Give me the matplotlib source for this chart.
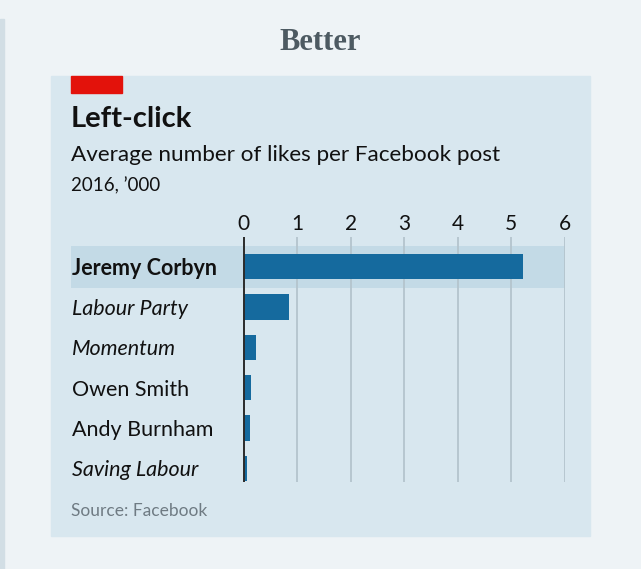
import matplotlib
matplotlib.use('Agg')
import matplotlib.pyplot as plt
from matplotlib.patches import Rectangle

# chart data, '000 likes per post
names = ['Jeremy Corbyn', 'Labour Party', 'Momentum', 'Owen Smith',
         'Andy Burnham', 'Saving Labour']
likes = [5.21, 0.84, 0.23, 0.13, 0.11, 0.05]
italic = [False, True, True, False, False, True]
ticks = [0, 1, 2, 3, 4, 5, 6]

W, H = 641, 569
BG = '#eef3f6'
PANEL = '#d8e7ef'
HIGHLIGHT = '#c3dae6'
BAR = '#156a9e'

plt.rcParams['font.family'] = ['Lato', 'DejaVu Sans']

fig = plt.figure(figsize=(W / 100, H / 100), dpi=100)
fig.patch.set_facecolor(BG)


def px(x, y):
    # pixel position (from top left) -> figure fraction
    return x / W, 1 - y / H


def box(x0, y0, x1, y1, color):
    fig.patches.append(Rectangle(px(x0, y1), (x1 - x0) / W, (y1 - y0) / H,
                                 transform=fig.transFigure, color=color,
                                 zorder=0))


# thin strip on the left, the panel and the red tag
box(0, 19, 4, H, '#d2dee5')
box(51, 76, 590, 536, PANEL)
box(71, 76, 121.5, 93, '#e3120b')

fig.text(*px(320.5, 50), 'Better', ha='center', va='baseline',
         family='Liberation Serif', fontweight='bold', fontsize=22,
         color='#4d5a62')
fig.text(*px(71, 127), 'Left-click', ha='left', va='baseline',
         fontweight='bold', fontsize=21, color='#111111')
fig.text(*px(71, 161), 'Average number of likes per Facebook post',
         ha='left', va='baseline', fontsize=16.2, color='#111111')
fig.text(*px(71, 191), '2016, \u2019000', ha='left', va='baseline',
         fontsize=13.5, color='#111111')
fig.text(*px(71, 516), 'Source: Facebook', ha='left', va='baseline',
         fontsize=12.5, color='#6f7b83')

# axes: value 0 at x=243.9px, value 6 at x=564.8px
ax_l, ax_r, ax_t, ax_b = 71, 565, 237, 481.7
ax = fig.add_axes([ax_l / W, 1 - ax_b / H, (ax_r - ax_l) / W,
                   (ax_b - ax_t) / H])
ax.set_zorder(2)
ax.set_facecolor('none')
unit = (564.8 - 243.9) / 6
xmin = (ax_l - 243.9) / unit
xmax = (ax_r - 243.9) / unit
ax.set_xlim(xmin, xmax)
ax.set_ylim(5.335, -0.737)

ax.axhspan(-0.52, 0.52, color=HIGHLIGHT, zorder=0, lw=0)
for t in ticks:
    ax.axvline(t, color='#b4c4cd', lw=1.3, zorder=1)
ax.barh(range(len(names)), likes, height=0.63, color=BAR, zorder=2)
ax.axvline(0, color='#2b2b2b', lw=1.4, zorder=3)

for i, (n, it) in enumerate(zip(names, italic)):
    ax.text(xmin + 0.02, i + 0.05, n, ha='left', va='center', fontsize=15.5,
            fontstyle='italic' if it else 'normal',
            fontweight='bold' if i == 0 else 'normal', color='#111111')

ax.set_xticks(ticks)
ax.set_xticklabels([str(t) for t in ticks])
ax.set_yticks([])
ax.tick_params(axis='x', top=True, labeltop=True, bottom=False,
               labelbottom=False, length=0, pad=2, labelsize=15,
               labelcolor='#111111')
for s in ax.spines.values():
    s.set_visible(False)

fig.savefig('out.png', dpi=100, facecolor=BG)
